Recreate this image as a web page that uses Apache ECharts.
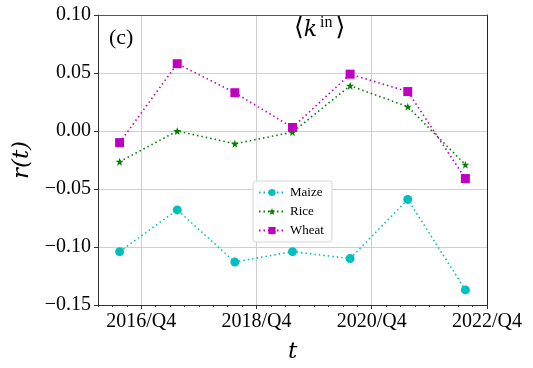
<!DOCTYPE html>
<html>
<head>
<meta charset="utf-8">
<script src="https://cdn.jsdelivr.net/npm/echarts@6/dist/echarts.min.js"></script>
<style>
  html, body { margin: 0; padding: 0; background: #fff; }
  #chart { width: 533px; height: 368px; }
</style>
</head>
<body>
<div id="chart"></div>
<script>
// x in quarters counted from 2016/Q1
var quarterPos = [1.5, 5.5, 9.5, 13.5, 17.5, 21.5, 25.5]
var maize = [-0.104, -0.068, -0.113, -0.104, -0.110, -0.059, -0.137]
var rice = [-0.0265, 0.000, -0.011, -0.001, 0.039, 0.021, -0.029]
var wheat = [-0.010, 0.058, 0.033, 0.003, 0.049, 0.034, -0.041]

var majorTicks = [3, 11, 19, 27]
var majorLabels = { 3: '2016/Q4', 11: '2018/Q4', 19: '2020/Q4', 27: '2022/Q4' }
var minorTicks = []
for (var q = 0; q <= 27; q++) minorTicks.push(q)

var serif = 'Liberation Serif, DejaVu Serif, serif'
var mathItalic = 'DejaVu Serif, Liberation Serif, serif'

function pairs(vals) {
  return vals.map(function (v, i) { return [quarterPos[i], v] })
}

function lineSeries(name, vals, color, symbol, size) {
  return {
    name: name,
    type: 'line',
    data: pairs(vals),
    symbol: symbol,
    symbolSize: size,
    showAllSymbol: true,
    itemStyle: { color: color },
    lineStyle: { color: color, width: 1.6, type: [1.5, 3] },
    z: 3
  }
}

var chart = echarts.init(document.getElementById('chart'))
chart.setOption({
  animation: false,
  grid: { left: 98, right: 46, top: 15, bottom: 63, outerBoundsMode: 'none', containLabel: false },
  xAxis: [{
    type: 'value',
    min: 0,
    max: 27,
    name: 't',
    nameLocation: 'middle',
    nameGap: 36,
    nameTextStyle: { fontFamily: mathItalic, fontStyle: 'italic', fontSize: 23, color: '#000' },
    axisLine: { show: true, onZero: false, lineStyle: { color: '#333', width: 1 } },
    axisTick: { show: true, inside: false, length: 4, customValues: majorTicks, lineStyle: { color: '#333' } },
    axisLabel: {
      customValues: majorTicks,
      formatter: function (v) { return majorLabels[v] || '' },
      fontFamily: serif, fontSize: 20, color: '#000', margin: 7
    },
    splitLine: { show: true, lineStyle: { color: '#cfcfcf', width: 1 } }
  }, {
    type: 'value',
    min: 0,
    max: 27,
    position: 'bottom',
    axisLine: { show: false, onZero: false },
    axisTick: { show: true, length: 2, customValues: minorTicks, lineStyle: { color: '#333' } },
    axisLabel: { show: false },
    splitLine: { show: false }
  }, {
    type: 'value',
    min: 0,
    max: 27,
    position: 'top',
    axisLine: { show: true, onZero: false, lineStyle: { color: '#555', width: 1 } },
    axisTick: { show: false },
    axisLabel: { show: false },
    splitLine: { show: false }
  }],
  yAxis: [{
    type: 'value',
    min: -0.15,
    max: 0.10,
    interval: 0.05,
    name: 'r(t)',
    nameLocation: 'middle',
    nameGap: 64,
    nameRotate: 90,
    nameTextStyle: { fontFamily: mathItalic, fontStyle: 'italic', fontSize: 23, color: '#000' },
    axisLine: { show: true, onZero: false, lineStyle: { color: '#333', width: 1 } },
    axisTick: { show: true, length: 4, lineStyle: { color: '#333' } },
    axisLabel: {
      formatter: function (v) {
        var s = Math.abs(v).toFixed(2)
        return v < -1e-9 ? '\u2212' + s : s
      },
      fontFamily: serif, fontSize: 20, color: '#000', margin: 7
    },
    splitLine: { show: true, lineStyle: { color: '#cfcfcf', width: 1 } }
  }, {
    type: 'value',
    min: -0.15,
    max: 0.10,
    interval: 0.05,
    position: 'right',
    axisLine: { show: true, onZero: false, lineStyle: { color: '#222', width: 1 } },
    axisTick: { show: false },
    axisLabel: { show: false },
    splitLine: { show: false }
  }],
  legend: {
    orient: 'vertical',
    left: 253,
    top: 181,
    itemWidth: 26,
    itemHeight: 9,
    itemGap: 6,
    padding: [5, 8, 5, 5],
    backgroundColor: '#fff',
    borderColor: '#d5d5d5',
    borderWidth: 1,
    borderRadius: 3,
    textStyle: { fontFamily: serif, fontSize: 13, color: '#000' },
    data: ['Maize', 'Rice', 'Wheat']
  },
  graphic: [{
    type: 'text',
    left: 109,
    top: 27,
    style: { text: '(c)', font: '22px ' + serif, fill: '#000' }
  }, {
    type: 'text',
    left: 294,
    top: 15,
    style: {
      text: '{b|\u27e8}{k|k}{s|in}{b|\u27e9}',
      rich: {
        b: { fontFamily: serif, fontSize: 25, fill: '#000', verticalAlign: 'bottom' },
        k: { fontFamily: mathItalic, fontSize: 22, fontStyle: 'italic', fill: '#000', verticalAlign: 'bottom', padding: [0, 1, 0, 0] },
        s: { fontFamily: serif, fontSize: 16, fill: '#000', verticalAlign: 'top', padding: [0, 3, 10, 2] }
      }
    }
  }],
  series: [
    lineSeries('Maize', maize, '#00bfbf', 'circle', 9),
    lineSeries('Rice', rice, '#008000', 'path://M0,-10 L2.35,-3.24 L9.51,-3.09 L3.8,1.24 L5.88,8.09 L0,4 L-5.88,8.09 L-3.8,1.24 L-9.51,-3.09 L-2.35,-3.24 Z', 8),
    lineSeries('Wheat', wheat, '#bf00bf', 'rect', 9)
  ]
})
</script>
</body>
</html>
